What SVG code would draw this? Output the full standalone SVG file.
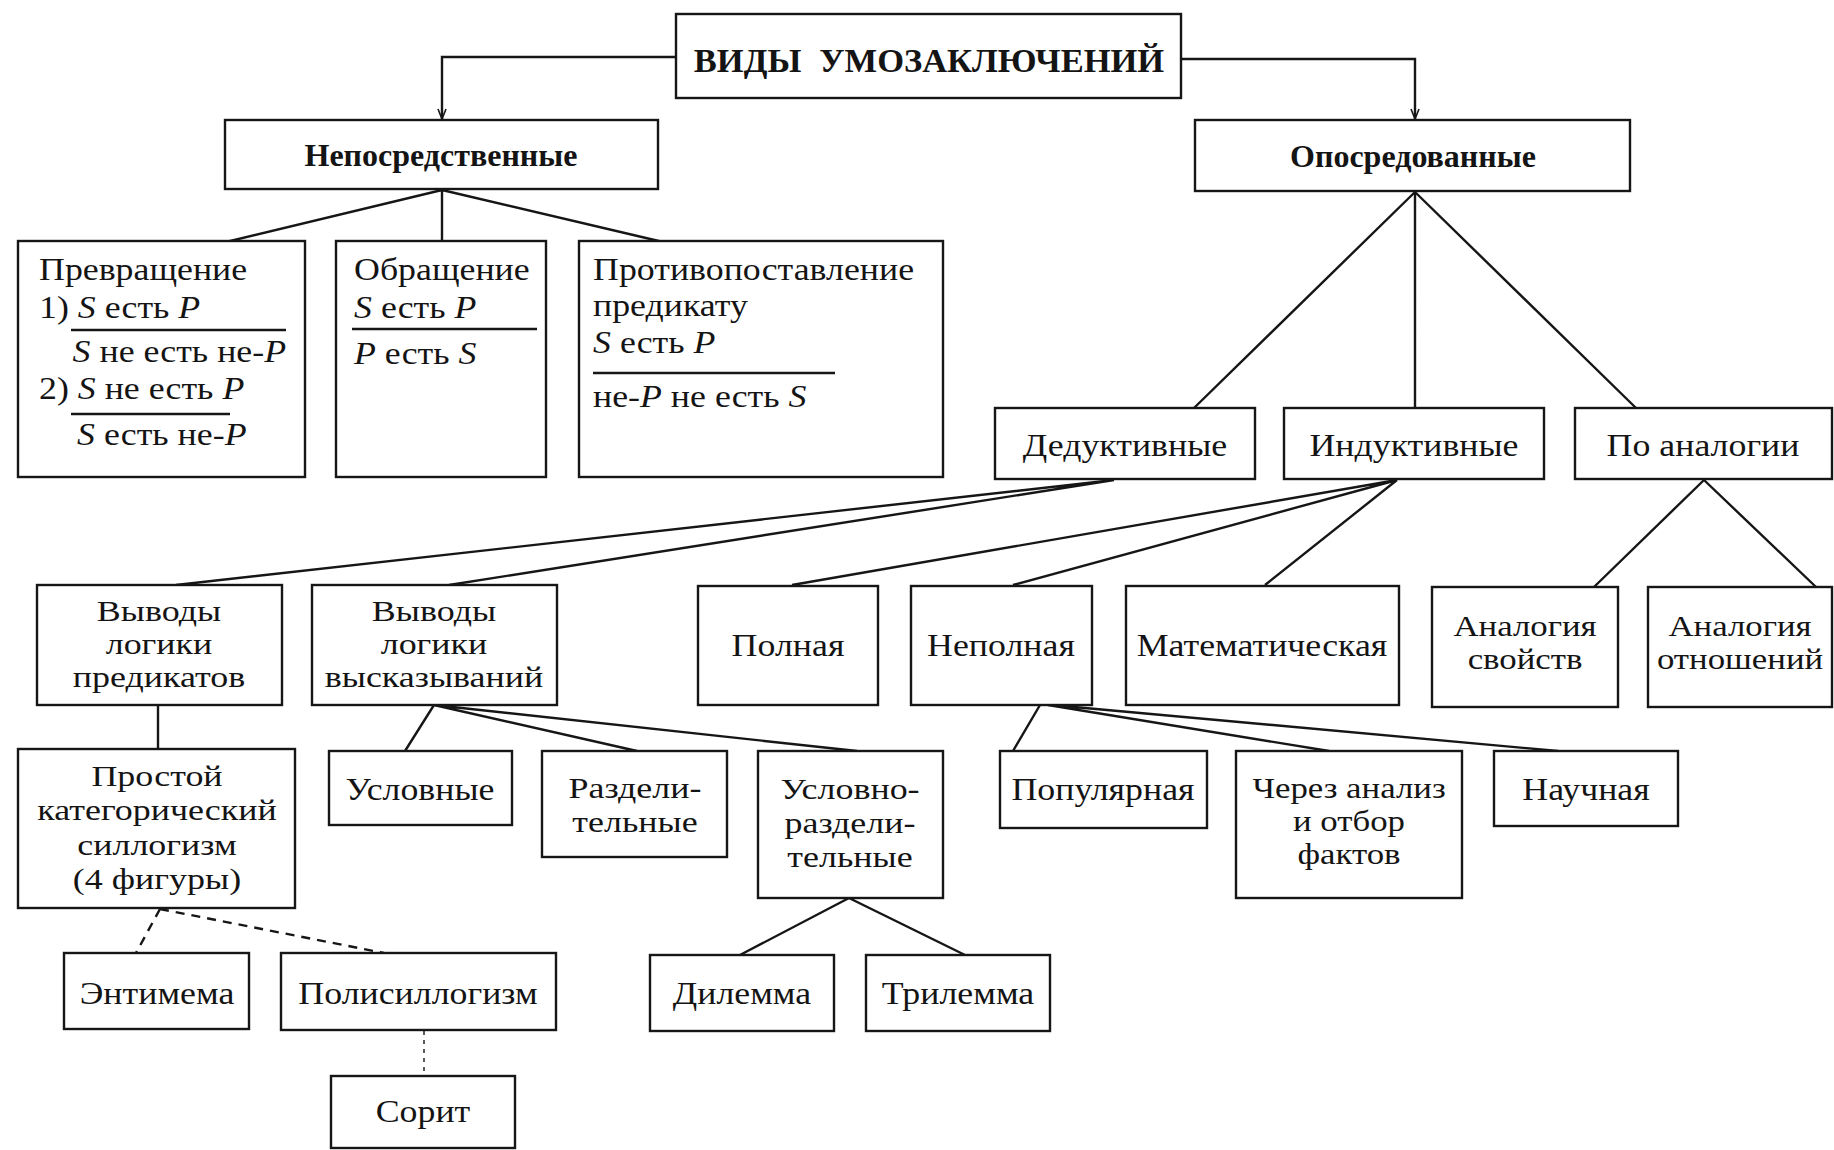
<svg xmlns="http://www.w3.org/2000/svg" width="1834" height="1150" viewBox="0 0 1834 1150">
<style>
.bg{fill:#ffffff}
.box{fill:#ffffff;stroke:#161616;stroke-width:2.4}
.ln{fill:none;stroke:#161616;stroke-width:2.4}
.dash{fill:none;stroke:#161616;stroke-width:2.4;stroke-dasharray:9 7}
.dot{fill:none;stroke:#161616;stroke-width:1.4;stroke-dasharray:4 5}
.rule{stroke:#161616;stroke-width:2.4}
text{font-family:"Liberation Serif","Times New Roman",serif;font-size:32px;fill:#141414}
.m{font-size:29px}
.c{text-anchor:middle}
.b{font-weight:bold}
.i{font-style:italic}
.title{font-size:34.5px;font-weight:bold}
</style>
<defs>
<marker id="arr" viewBox="0 0 12 10" refX="11" refY="5" markerWidth="12" markerHeight="10" markerUnits="userSpaceOnUse" orient="auto">
<path d="M1,1 L11,5 L1,9" fill="none" stroke="#161616" stroke-width="1.6"/>
</marker>
</defs>
<rect class="bg" x="0" y="0" width="1834" height="1150"/>

<g id="connectors">
<path class="ln" d="M676,57 H442 V119" marker-end="url(#arr)"/>
<path class="ln" d="M1181,59 H1415 V119" marker-end="url(#arr)"/>
<path class="ln" d="M442,190 L226,242 M442,190 V242 M442,190 L663,242"/>
<path class="ln" d="M1415,192 L1194,408 M1415,192 V408 M1415,192 L1636,408"/>
<path class="ln" d="M1114,480 L176,585 M1114,480 L449,585"/>
<path class="ln" d="M1397,480 L792,585 M1397,480 L1013,585 M1397,480 L1265,585"/>
<path class="ln" d="M1704,480 L1594,587 M1704,480 L1816,587"/>
<path class="ln" d="M158,705 V749"/>
<path class="ln" d="M434,705 L405,751 M434,705 L637,751 M434,705 L857,751"/>
<path class="ln" d="M1040,705 L1013,751 M1048,705 L1329,751 M1052,705 L1558,751"/>
<path class="dash" d="M160,909 L136,953 M160,909 L384,953"/>
<path class="dot" d="M424,1031 V1076"/>
<path class="ln" d="M849,898 L740,955 M849,898 L965,955"/>
</g>

<g id="n-title"><rect class="box" x="676" y="14" width="505" height="84"/><text class="title c" x="929" y="72">ВИДЫ<tspan dx="18">УМОЗАКЛЮЧЕНИЙ</tspan></text></g>
<g id="n-neposr"><rect class="box" x="225" y="120" width="433" height="69"/><text class="b c" x="441" y="166">Непосредственные</text></g>
<g id="n-oposr"><rect class="box" x="1195" y="120" width="435" height="71"/><text class="b c" x="1413" y="167">Опосредованные</text></g>

<g id="n-prevr"><rect class="box" x="18" y="241" width="287" height="236"/>
<g transform="translate(39 0) scale(1.12 1)">
<text x="0" y="280">Превращение</text>
<text x="0" y="318">1) <tspan class="i">S</tspan> есть <tspan class="i">P</tspan></text>
<text x="30" y="362"><tspan class="i">S</tspan> не есть не-<tspan class="i">P</tspan></text>
<text x="0" y="399">2) <tspan class="i">S</tspan> не есть <tspan class="i">P</tspan></text>
<text x="34" y="445"><tspan class="i">S</tspan> есть не-<tspan class="i">P</tspan></text>
</g>
<line class="rule" x1="71" y1="330" x2="286" y2="330"/>
<line class="rule" x1="71" y1="414" x2="230" y2="414"/>
</g>
<g id="n-obr"><rect class="box" x="336" y="241" width="210" height="236"/>
<g transform="translate(354 0) scale(1.12 1)">
<text x="0" y="280">Обращение</text>
<text x="0" y="318"><tspan class="i">S</tspan> есть <tspan class="i">P</tspan></text>
<text x="0" y="364"><tspan class="i">P</tspan> есть <tspan class="i">S</tspan></text>
</g>
<line class="rule" x1="352" y1="329" x2="537" y2="329"/>
</g>
<g id="n-protiv"><rect class="box" x="579" y="241" width="364" height="236"/>
<g transform="translate(593 0) scale(1.12 1)">
<text x="0" y="280">Противопоставление</text>
<text x="0" y="316">предикату</text>
<text x="0" y="353"><tspan class="i">S</tspan> есть <tspan class="i">P</tspan></text>
<text x="0" y="407">не-<tspan class="i">P</tspan> не есть <tspan class="i">S</tspan></text>
</g>
<line class="rule" x1="593" y1="373" x2="835" y2="373"/>
</g>

<g id="n-ded"><rect class="box" x="995" y="408" width="260" height="71"/><g transform="translate(1125 0) scale(1.12 1)"><text class="c" x="0" y="456">Дедуктивные</text></g></g>
<g id="n-ind"><rect class="box" x="1284" y="408" width="260" height="71"/><g transform="translate(1414 0) scale(1.12 1)"><text class="c" x="0" y="456">Индуктивные</text></g></g>
<g id="n-anal"><rect class="box" x="1575" y="408" width="257" height="71"/><g transform="translate(1703 0) scale(1.12 1)"><text class="c" x="0" y="456">По аналогии</text></g></g>

<g id="n-vpred"><rect class="box" x="37" y="585" width="245" height="120"/>
<g transform="translate(159 0) scale(1.24 1)"><text class="c m" x="0" y="621">Выводы</text><text class="c m" x="0" y="654">логики</text><text class="c m" x="0" y="687">предикатов</text></g></g>
<g id="n-vvysk"><rect class="box" x="312" y="585" width="245" height="120"/>
<g transform="translate(434 0) scale(1.24 1)"><text class="c m" x="0" y="621">Выводы</text><text class="c m" x="0" y="654">логики</text><text class="c m" x="0" y="687">высказываний</text></g></g>
<g id="n-poln"><rect class="box" x="698" y="586" width="180" height="119"/><g transform="translate(788 0) scale(1.12 1)"><text class="c" x="0" y="656">Полная</text></g></g>
<g id="n-nepoln"><rect class="box" x="911" y="586" width="181" height="119"/><g transform="translate(1001 0) scale(1.12 1)"><text class="c" x="0" y="656">Неполная</text></g></g>
<g id="n-mat"><rect class="box" x="1126" y="586" width="273" height="119"/><g transform="translate(1262 0) scale(1.12 1)"><text class="c" x="0" y="656">Математическая</text></g></g>
<g id="n-asv"><rect class="box" x="1432" y="587" width="186" height="120"/><g transform="translate(1525 0) scale(1.2 1)"><text class="c m" x="0" y="636">Аналогия</text><text class="c m" x="0" y="669">свойств</text></g></g>
<g id="n-aot"><rect class="box" x="1648" y="587" width="184" height="120"/><g transform="translate(1740 0) scale(1.2 1)"><text class="c m" x="0" y="636">Аналогия</text><text class="c m" x="0" y="669">отношений</text></g></g>

<g id="n-prost"><rect class="box" x="18" y="749" width="277" height="159"/>
<g transform="translate(157 0) scale(1.24 1)"><text class="c m" x="0" y="786">Простой</text><text class="c m" x="0" y="820">категорический</text><text class="c m" x="0" y="855">силлогизм</text><text class="c m" x="0" y="889">(4 фигуры)</text></g></g>
<g id="n-usl"><rect class="box" x="329" y="751" width="183" height="74"/><g transform="translate(420 0) scale(1.12 1)"><text class="c" x="0" y="800">Условные</text></g></g>
<g id="n-razd"><rect class="box" x="542" y="751" width="185" height="106"/><g transform="translate(635 0) scale(1.24 1)"><text class="c m" x="0" y="798">Раздели-</text><text class="c m" x="0" y="832">тельные</text></g></g>
<g id="n-uslrazd"><rect class="box" x="758" y="751" width="185" height="147"/><g transform="translate(850 0) scale(1.24 1)"><text class="c m" x="0" y="799">Условно-</text><text class="c m" x="0" y="833">раздели-</text><text class="c m" x="0" y="867">тельные</text></g></g>
<g id="n-pop"><rect class="box" x="1000" y="751" width="207" height="77"/><g transform="translate(1103 0) scale(1.12 1)"><text class="c" x="0" y="800">Популярная</text></g></g>
<g id="n-cherez"><rect class="box" x="1236" y="751" width="226" height="147"/><g transform="translate(1349 0) scale(1.2 1)"><text class="c m" x="0" y="798">Через анализ</text><text class="c m" x="0" y="831">и отбор</text><text class="c m" x="0" y="864">фактов</text></g></g>
<g id="n-nauch"><rect class="box" x="1494" y="751" width="184" height="75"/><g transform="translate(1586 0) scale(1.12 1)"><text class="c" x="0" y="800">Научная</text></g></g>

<g id="n-entim"><rect class="box" x="64" y="953" width="185" height="76"/><g transform="translate(157 0) scale(1.12 1)"><text class="c" x="0" y="1004">Энтимема</text></g></g>
<g id="n-polis"><rect class="box" x="281" y="953" width="275" height="77"/><g transform="translate(418 0) scale(1.12 1)"><text class="c" x="0" y="1004">Полисиллогизм</text></g></g>
<g id="n-dil"><rect class="box" x="650" y="955" width="184" height="76"/><g transform="translate(742 0) scale(1.12 1)"><text class="c" x="0" y="1004">Дилемма</text></g></g>
<g id="n-tril"><rect class="box" x="866" y="955" width="184" height="76"/><g transform="translate(958 0) scale(1.12 1)"><text class="c" x="0" y="1004">Трилемма</text></g></g>
<g id="n-sorit"><rect class="box" x="331" y="1076" width="184" height="72"/><g transform="translate(423 0) scale(1.12 1)"><text class="c" x="0" y="1122">Сорит</text></g></g>
</svg>
